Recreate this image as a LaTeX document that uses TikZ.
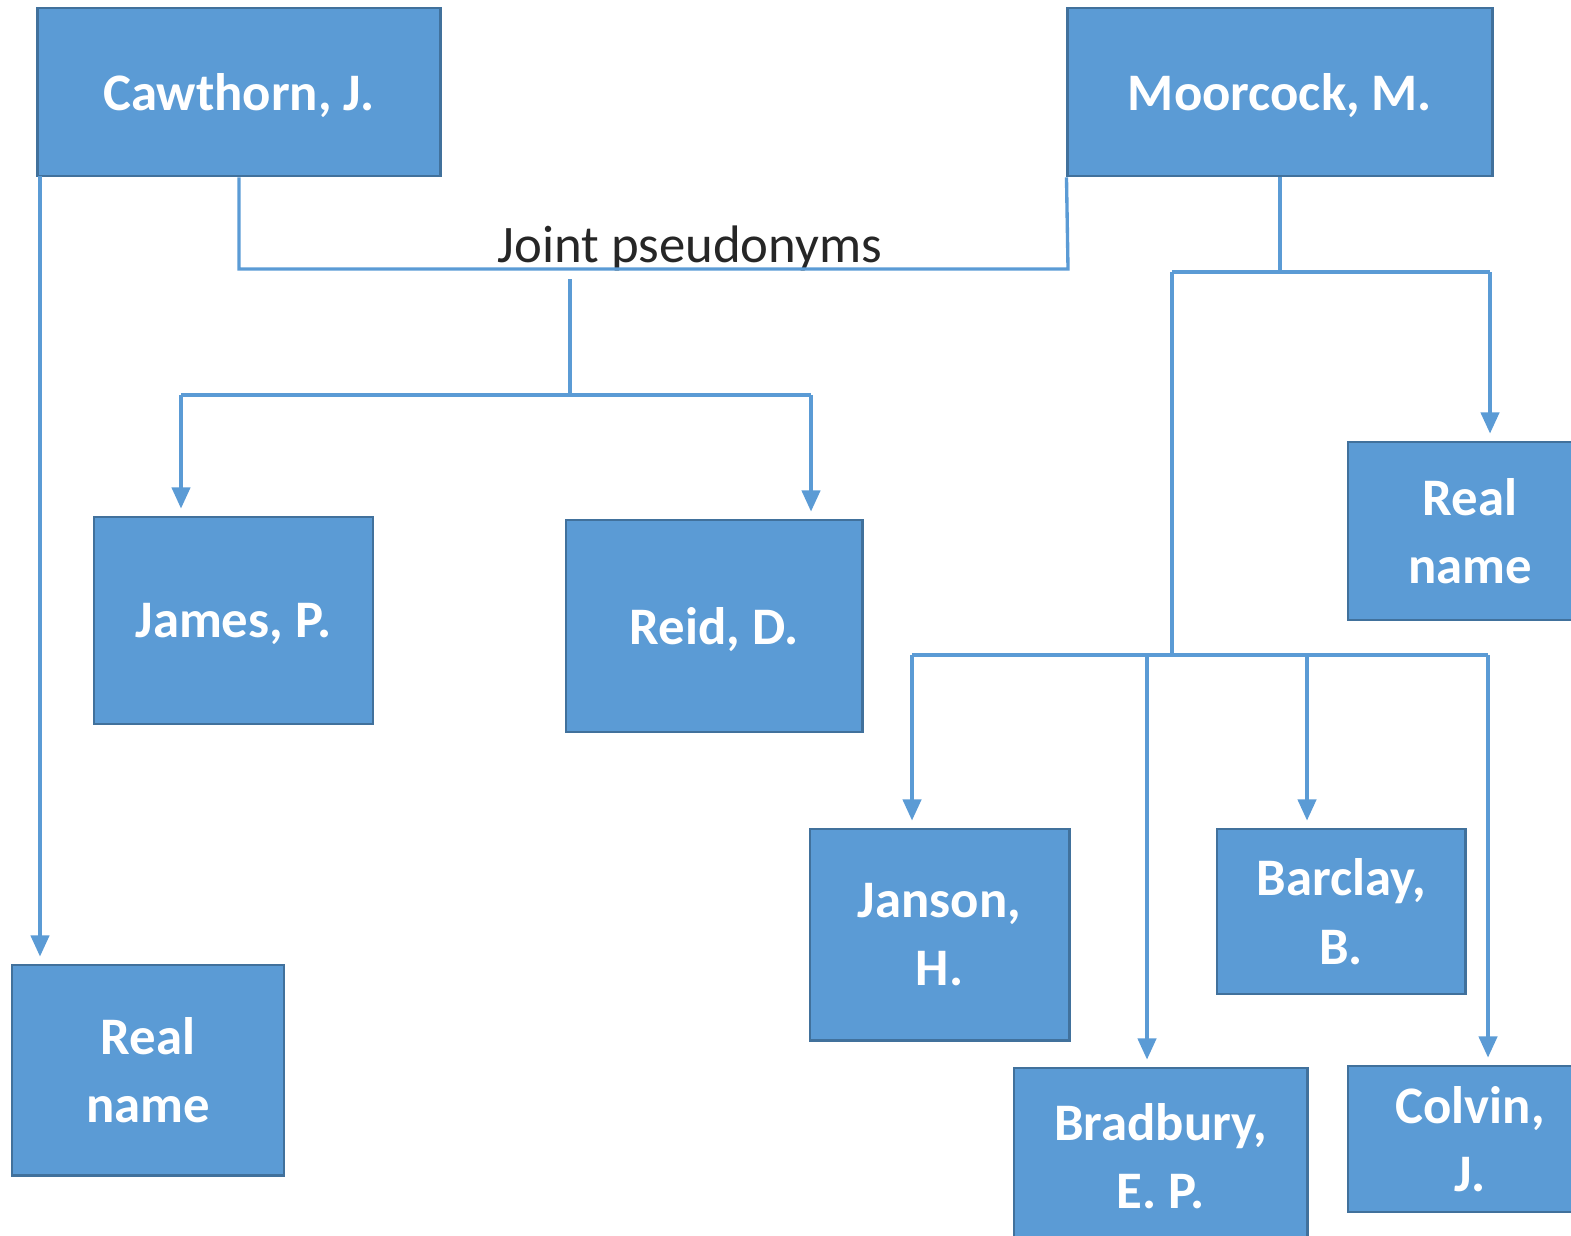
\documentclass[tikz,border=0pt]{standalone}
\usepackage{fontspec}
\setmainfont{Carlito}
\usetikzlibrary{positioning,arrows.meta}
\definecolor{boxblue}{HTML}{5B9BD5}
\definecolor{boxedge}{HTML}{41719C}
\definecolor{lineblue}{HTML}{5B9BD5}

\begin{document}
\begin{tikzpicture}[x=0.01cm, y=-0.01cm, >={Triangle[width=5.2pt,length=6pt]},
	person/.style={draw=boxedge, fill=boxblue, text=white, line width=0.8pt, inner sep=0pt, align=center, text depth=0pt, font=\fontsize{15}{19.5}\selectfont\bfseries},
	link/.style={draw=lineblue, line width=0.95pt},
	arrow/.style={link, ->, shorten >=2pt}]
	\useasboundingbox (0,0) rectangle (1571,1235);
	\clip (0,0) rectangle (1571,1235);

	\node[person, minimum width=4.02cm, minimum height=1.68cm] (cawthorn) at (239,92) {Cawthorn, J.};
	\node[person, minimum width=4.24cm, minimum height=1.68cm] (moorcock) at (1280,92) {Moorcock, M.};
	\node[person, minimum width=2.79cm, minimum height=2.07cm] (james) at (233.5,620.5) {James, P.};
	\node[person, minimum width=2.96cm, minimum height=2.12cm] (reid) at (714,626) {Reid, D.};
	\node[person, minimum width=2.44cm, minimum height=1.78cm] (realright) at (1470,531) {Real\\name};
	\node[person, minimum width=2.72cm, minimum height=2.10cm] (realleft) at (148,1070) {Real\\name};
	\node[person, minimum width=2.59cm, minimum height=2.11cm] (janson) at (939.5,934.5) {Janson,\\H.};
	\node[person, minimum width=2.48cm, minimum height=1.65cm] (barclay) at (1341,911.5) {Barclay,\\B.};
	\node[person, minimum width=2.93cm, minimum height=1.76cm] (bradbury) at (1160.5,1156) {Bradbury,\\E. P.};
	\node[person, minimum width=2.44cm, minimum height=1.46cm] (colvin) at (1470,1139) {Colvin,\\J.};
	\node[anchor=base, text=black!85, font=\fontsize{15}{18}\selectfont] (joint) at (690,262) {Joint pseudonyms};

	\coordinate (leftdrop) at (40,176);
	\coordinate (jointend) at (1068,269);
	\coordinate (jointtop) at (570,279);
	\coordinate (jointfork) at (570,395);
	\coordinate (forkleft) at (181,395);
	\coordinate (forkright) at (811,395);
	\coordinate (moorfork) at (1280,272);
	\coordinate (moorleft) at (1172,272);
	\coordinate (moorright) at (1490,272);
	\coordinate (lowfork) at (1172,655);
	\coordinate (tojanson) at (912,655);
	\coordinate (tobradbury) at (1147,655);
	\coordinate (tobarclay) at (1307,655);
	\coordinate (tocolvin) at (1488,655);

	\draw[link] (cawthorn.south) |- (jointend) -- (moorcock.south west);
	\draw[link] (jointtop) -- (jointfork);
	\draw[link] (forkleft) -- (forkright);
	\draw[link] (moorcock.south) -- (moorfork);
	\draw[link] (moorleft) -- (moorright);
	\draw[link] (moorleft) -- (lowfork);
	\draw[link] (tojanson) -- (tocolvin);

	\path (leftdrop) edge[arrow] (leftdrop |- realleft.north);
	\path (forkleft) edge[arrow] (forkleft |- james.north);
	\path (forkright) edge[arrow] (forkright |- reid.north);
	\path (moorright) edge[arrow] (moorright |- realright.north);
	\path (tojanson) edge[arrow] (tojanson |- janson.north);
	\path (tobradbury) edge[arrow] (tobradbury |- bradbury.north);
	\path (tobarclay) edge[arrow] (tobarclay |- barclay.north);
	\path (tocolvin) edge[arrow] (tocolvin |- colvin.north);

\end{tikzpicture}
\end{document}
